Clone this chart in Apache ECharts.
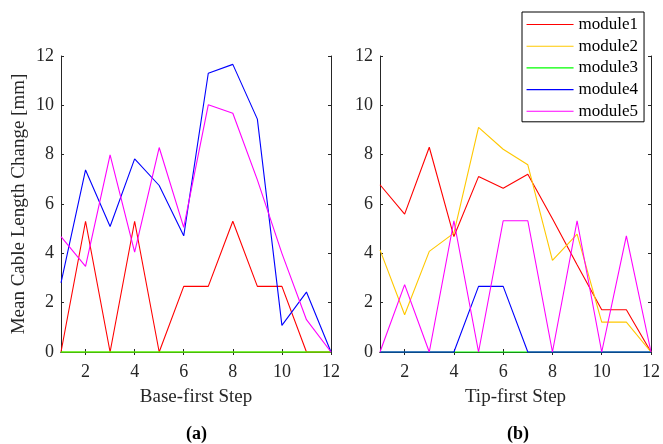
<!DOCTYPE html>
<html>
<head>
<meta charset="utf-8">
<script src="https://cdn.jsdelivr.net/npm/echarts@6/dist/echarts.min.js"></script>
<style>
  html, body { margin: 0; padding: 0; background: #fff; }
  #main { width: 663px; height: 444px; }
</style>
</head>
<body>
<div id="main"></div>
<script>
// steps on the x axis
const steps = [1, 2, 3, 4, 5, 6, 7, 8, 9, 10, 11, 12];
const xTicks = [2, 4, 6, 8, 10, 12];
const seriesNames = ['module1', 'module2', 'module3', 'module4', 'module5'];
const seriesColors = ['#ff0000', '#ffc800', '#00ff00', '#0000ff', '#ff00ff'];

// (a) base-first
const baseModule1 = [0, 5.3, 0, 5.3, 0, 2.66, 2.66, 5.3, 2.66, 2.66, 0, 0];
const baseModule2 = [0, 0, 0, 0, 0, 0, 0, 0, 0, 0, 0, 0];
const baseModule3 = [0, 0, 0, 0, 0, 0, 0, 0, 0, 0, 0, 0];
const baseModule4 = [2.8, 7.38, 5.09, 7.83, 6.75, 4.71, 11.3, 11.66, 9.44, 1.08, 2.43, 0];
const baseModule5 = [4.68, 3.47, 7.99, 4.05, 8.29, 5.05, 10.02, 9.68, 6.98, 4.0, 1.31, 0];

// (b) tip-first
const tipModule1 = [6.78, 5.59, 8.3, 4.68, 7.11, 6.64, 7.21, 5.4, 3.54, 1.71, 1.71, 0];
const tipModule2 = [4.14, 1.51, 4.08, 4.82, 9.11, 8.22, 7.59, 3.71, 4.78, 1.21, 1.21, 0];
const tipModule3 = [0, 0, 0, 0, 0, 0, 0, 0, 0, 0, 0, 0];
const tipModule4 = [0, 0, 0, 0, 2.66, 2.66, 0, 0, 0, 0, 0, 0];
const tipModule5 = [0, 2.73, 0, 5.32, 0, 5.32, 5.32, 0, 5.32, 0, 4.71, 0];

const baseData = [baseModule1, baseModule2, baseModule3, baseModule4, baseModule5];
const tipData = [tipModule1, tipModule2, tipModule3, tipModule4, tipModule5];

const font = '"Liberation Serif", "Times New Roman", serif';
const ink = '#262626';

function xAxisFor(grid, name) {
  return [{
    gridIndex: grid, type: 'value', min: 1, max: 12,
    name: name, nameLocation: 'middle', nameGap: 36,
    nameTextStyle: { fontFamily: font, fontSize: 19, color: ink },
    axisLine: { show: true, lineStyle: { color: ink, width: 1 } },
    axisTick: { show: true, inside: true, length: 3, customValues: xTicks, lineStyle: { color: ink } },
    axisLabel: { show: true, customValues: xTicks, margin: 11, fontFamily: font, fontSize: 18, color: ink },
    splitLine: { show: false }
  }, {
    gridIndex: grid, type: 'value', min: 1, max: 12, position: 'top',
    axisLine: { show: true, lineStyle: { color: ink, width: 1 } },
    axisTick: { show: true, inside: true, length: 3, customValues: xTicks, lineStyle: { color: ink } },
    axisLabel: { show: false },
    splitLine: { show: false }
  }];
}

function yAxisFor(grid, name) {
  return [{
    gridIndex: grid, type: 'value', min: 0, max: 12, interval: 2,
    name: name, nameLocation: 'middle', nameGap: 32,
    nameTextStyle: { fontFamily: font, fontSize: 19, color: ink },
    axisLine: { show: true, lineStyle: { color: ink, width: 1 } },
    axisTick: { show: true, inside: true, length: 3, lineStyle: { color: ink } },
    axisLabel: { margin: 7, fontFamily: font, fontSize: 18, color: ink },
    splitLine: { show: false }
  }, {
    gridIndex: grid, type: 'value', min: 0, max: 12, interval: 2, position: 'right',
    axisLine: { show: true, lineStyle: { color: ink, width: 1 } },
    axisTick: { show: true, inside: true, length: 3, lineStyle: { color: ink } },
    axisLabel: { show: false },
    splitLine: { show: false }
  }];
}

function buildSeries(data, xIdx, yIdx) {
  return data.map(function (vals, i) {
    return {
      name: seriesNames[i],
      type: 'line',
      xAxisIndex: xIdx,
      yAxisIndex: yIdx,
      symbol: 'none',
      clip: false,
      animation: false,
      color: seriesColors[i],
      lineStyle: { color: seriesColors[i], width: 1.1 },
      itemStyle: { color: seriesColors[i] },
      z: 10 + i,
      data: steps.map(function (s, k) { return [s, vals[k]]; })
    };
  });
}

let myChart = echarts.init(document.getElementById('main'));
myChart.setOption({
  backgroundColor: '#fff',
  animation: false,
  grid: [
    { left: 61, top: 56, width: 270, height: 296 },
    { left: 380, top: 56, width: 272, height: 296 }
  ],
  xAxis: xAxisFor(0, 'Base-first Step').concat(xAxisFor(1, 'Tip-first Step')),
  yAxis: yAxisFor(0, 'Mean Cable Length Change [mm]').concat(yAxisFor(1, '')),
  legend: {
    orient: 'vertical',
    left: 522, top: 12,
    z: 20,
    data: seriesNames,
    itemStyle: { opacity: 0 },
    lineStyle: { width: 1.1 },
    backgroundColor: '#fff',
    borderColor: '#000',
    borderWidth: 1,
    borderRadius: 0,
    padding: [4, 6, 2, 4],
    itemWidth: 47,
    itemHeight: 17,
    itemGap: 4.7,
    textStyle: { fontFamily: font, fontSize: 17, color: '#000' },
    selectedMode: false
  },
  graphic: [
    { type: 'text', left: 186, top: 425, style: { text: '(a)', font: 'bold 18px ' + font, fill: '#000' } },
    { type: 'text', left: 507, top: 425, style: { text: '(b)', font: 'bold 18px ' + font, fill: '#000' } }
  ],
  series: buildSeries(baseData, 0, 0).concat(buildSeries(tipData, 2, 2))
});
</script>
</body>
</html>
